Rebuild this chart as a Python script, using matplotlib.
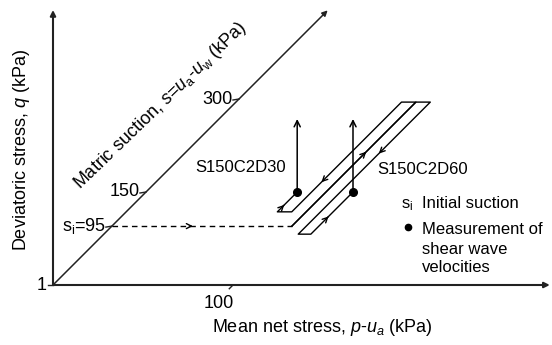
import numpy as np
import matplotlib.pyplot as plt

plt.rcParams['font.family'] = ['Liberation Sans', 'DejaVu Sans']
plt.rcParams['mathtext.fontset'] = 'custom'
plt.rcParams['mathtext.rm'] = 'Liberation Sans'
plt.rcParams['mathtext.it'] = 'Liberation Sans:italic'

FS = 13
FS_SMALL = 12

# stress state: p = mean net stress, s = matric suction, q = deviatoric stress (kPa)
s_ticks = [95, 150, 300]
s_tick_labels = ['s$_{\\rm i}$=95', '150', '300']
p_ticks = [100]
s_init = 95
p_load = 100
q_end = 146

# drying/wetting paths before shearing
d30_p = [100, 100, 92, 92, 84, 84]
d30_s = [95, 295, 295, 118, 118, 150]
d60_p = [100, 100, 108, 108, 115, 115]
d60_s = [95, 295, 295, 82, 82, 150]

# where the arrow heads sit along each segment of a path
d30_arrows = [0.6, None, 0.73, None, 0.35]
d60_arrows = [None, None, 0.39, None, 0.42]

# oblique projection of (p, s, q) onto the page
x0, y0 = 53, 285
kp, ks, kq = 1.8, 0.62, 0.5


def proj(p, s, q=0):
    p = np.asarray(p, dtype=float)
    s = np.asarray(s, dtype=float)
    q = np.asarray(q, dtype=float)
    return x0 + kp * p + ks * s, y0 - ks * s - kq * q


def head(ax, a, b, f, col='black'):
    # small open arrow head at fraction f of segment a->b
    xa, ya = a
    xb, yb = b
    xh, yh = xa + f * (xb - xa), ya + f * (yb - ya)
    xt, yt = xa + (f - 0.02) * (xb - xa), ya + (f - 0.02) * (yb - ya)
    ax.annotate('', xy=(xh, yh), xytext=(xt, yt),
                arrowprops=dict(arrowstyle='->', lw=1.0, color=col,
                                mutation_scale=9, shrinkA=0, shrinkB=0))


fig = plt.figure(figsize=(5.52, 3.45), dpi=100)
ax = fig.add_axes([0, 0, 1, 1])
ax.set_xlim(0, 552)
ax.set_ylim(345, 0)
ax.axis('off')

axcol = '#222222'
axis_arrow = dict(arrowstyle='-|>', lw=1.5, color=axcol, mutation_scale=8,
                  shrinkA=0, shrinkB=0)
# q axis, p axis, s axis
ax.annotate('', xy=proj(0, 0, 550), xytext=proj(0, 0, 0), arrowprops=axis_arrow)
ax.annotate('', xy=proj(276, 0, 0), xytext=proj(0, 0, 0), arrowprops=axis_arrow)
ax.annotate('', xy=proj(0, 443, 0), xytext=proj(0, 0, 0),
            arrowprops=dict(axis_arrow, lw=1.1))

# origin tick
ox, oy = proj(0, 0)
ax.plot([ox - 5, ox], [oy, oy], color=axcol, lw=1)
ax.text(ox - 6, oy, '1', ha='right', va='center', fontsize=FS)

# suction ticks along the diagonal
for t, lab in zip(s_ticks, s_tick_labels):
    tx, ty = proj(0, t)
    ax.plot([tx - 6, tx], [ty + 1, ty], color=axcol, lw=1)
    ax.text(tx - 6, ty, lab, ha='right', va='center', fontsize=FS)

# net stress ticks
for t in p_ticks:
    tx, ty = proj(t, 0)
    bx, by = proj(t, -6)
    ax.plot([bx, tx], [by, ty], color=axcol, lw=1)
    ax.text(tx - 14, ty + 19, str(t), ha='center', va='center', fontsize=FS)

# loading at constant initial suction
lx, ly = proj([0, p_load], [s_init, s_init])
ax.plot(lx, ly, color='black', lw=1, ls=(0, (4, 3)))
head(ax, (lx[0], ly[0]), (lx[1], ly[1]), 0.45)

# suction cycles and shearing
for pp, ss, arr in [(d30_p, d30_s, d30_arrows), (d60_p, d60_s, d60_arrows)]:
    px, py = proj(pp, ss)
    ax.plot(px, py, color='black', lw=1)
    for i, f in enumerate(arr):
        if f is not None:
            head(ax, (px[i], py[i]), (px[i + 1], py[i + 1]), f)
    sx, sy = proj(pp[-1], ss[-1], 0)
    ex, ey = proj(pp[-1], ss[-1], q_end)
    ax.annotate('', xy=(ex, ey), xytext=(sx, sy),
                arrowprops=dict(arrowstyle='->', lw=1.1, color='black',
                                mutation_scale=11, shrinkA=0, shrinkB=0))
    ax.plot(sx, sy, 'o', color='black', ms=5.5)

# labels
ax.text(22, 150, 'Deviatoric stress, $q$ (kPa)', rotation=90,
        ha='center', va='center', fontsize=FS)
ax.text(322, 327, 'Mean net stress, $p$-$u_a$ (kPa)',
        ha='center', va='center', fontsize=FS)
ax.text(160, 106, 'Matric suction, $s$=$u_{\\rm a}$-$u_{\\rm w}$ (kPa)',
        rotation=44, rotation_mode='anchor', ha='center', va='center',
        fontsize=FS)
ax.text(281, -7, '(b)', ha='center', va='baseline', fontsize=FS)

ax.text(241, 168, 'S150C2D30', ha='center', va='center', fontsize=FS_SMALL)
ax.text(423, 170, 'S150C2D60', ha='center', va='center', fontsize=FS_SMALL)

# key
ax.text(407, 205, 's$_{\\rm i}$', ha='center', va='center', fontsize=FS_SMALL)
ax.text(422, 204, 'Initial suction', ha='left', va='center', fontsize=FS_SMALL)
ax.plot(408, 227, 'o', color='black', ms=4.5)
ax.text(422, 229, 'Measurement of', ha='left', va='center', fontsize=FS_SMALL)
ax.text(422, 249, 'shear wave', ha='left', va='center', fontsize=FS_SMALL)
ax.text(422, 268, 'velocities', ha='left', va='center', fontsize=FS_SMALL)

fig.savefig('out.png', dpi=100)
